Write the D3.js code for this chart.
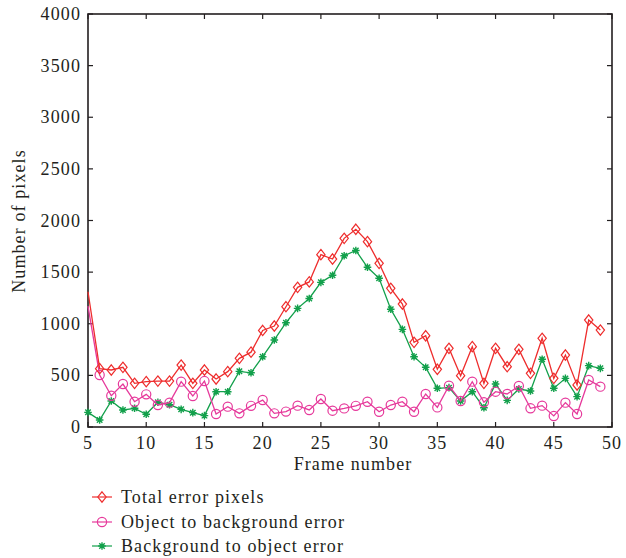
<!DOCTYPE html>
<html>
<head>
<meta charset="utf-8">
<script src="https://cdn.jsdelivr.net/npm/d3@7/dist/d3.min.js"></script>
<style>
  html, body { margin: 0; padding: 0; background: #fff; }
  svg text { font-family: "Liberation Serif", "Times New Roman", serif; fill: #231f20; }
</style>
</head>
<body>
<svg id="chart" width="626" height="558"></svg>
<script>
const frames = d3.range(5, 50);
const totalError = [1310, 565, 552, 578, 423, 439, 445, 445, 600, 423, 552, 465, 536, 665, 725, 935, 978, 1165, 1353, 1405, 1669, 1627, 1827, 1915, 1795, 1585, 1343, 1191, 820, 884, 559, 762, 497, 778, 423, 762, 584, 752, 520, 859, 471, 697, 407, 1036, 939];
const objToBg = [1170, 504, 303, 416, 245, 316, 213, 236, 439, 300, 445, 126, 197, 132, 205, 261, 132, 149, 207, 165, 271, 158, 180, 205, 245, 148, 213, 245, 148, 320, 190, 400, 252, 439, 239, 342, 320, 397, 181, 207, 107, 236, 126, 455, 391];
const bgToObj = [142, 68, 252, 165, 181, 123, 239, 216, 171, 139, 110, 342, 342, 539, 525, 681, 843, 1010, 1149, 1245, 1401, 1470, 1659, 1710, 1547, 1440, 1140, 946, 681, 578, 375, 381, 252, 342, 187, 416, 258, 368, 349, 656, 375, 471, 294, 594, 568];
const xTicks = [5, 10, 15, 20, 25, 30, 35, 40, 45, 50];
const yTicks = [0, 500, 1000, 1500, 2000, 2500, 3000, 3500, 4000];
const seriesNames = ["Total error pixels", "Object to background error", "Background to object error"];

const colors = ["#ee2d2d", "#e6399b", "#12a04b"];
const markers = ["diamond", "circle", "asterisk"];
const seriesData = [totalError, objToBg, bgToObj];

const svg = d3.select("#chart");
const L = 88, R = 612, T = 14, B = 427;
const x = d3.scaleLinear().domain([5, 50]).range([L, R]);
const y = d3.scaleLinear().domain([0, 4000]).range([B, T]);

const axisColor = "#231f20";
const fs = "18px";
const ls = "1.1px";

const tl = 5;
xTicks.forEach(v => {
  svg.append("line").attr("x1", x(v)).attr("x2", x(v)).attr("y1", B).attr("y2", B - tl).attr("stroke", axisColor).attr("stroke-width", 1.2);
  svg.append("line").attr("x1", x(v)).attr("x2", x(v)).attr("y1", T).attr("y2", T + tl).attr("stroke", axisColor).attr("stroke-width", 1.2);
  svg.append("text").attr("x", x(v)).attr("y", 449).attr("text-anchor", "middle")
    .style("font-size", fs).style("letter-spacing", ls).text(v);
});
yTicks.forEach(v => {
  svg.append("line").attr("x1", L).attr("x2", L + tl).attr("y1", y(v)).attr("y2", y(v)).attr("stroke", axisColor).attr("stroke-width", 1.2);
  svg.append("line").attr("x1", R).attr("x2", R - tl).attr("y1", y(v)).attr("y2", y(v)).attr("stroke", axisColor).attr("stroke-width", 1.2);
  svg.append("text").attr("x", 81).attr("y", y(v) + 6).attr("text-anchor", "end")
    .style("font-size", fs).style("letter-spacing", ls).text(v);
});

svg.append("rect").attr("x", L).attr("y", T).attr("width", R - L).attr("height", B - T)
  .attr("fill", "none").attr("stroke", axisColor).attr("stroke-width", 1.6);

svg.append("text").attr("x", 353).attr("y", 470).attr("text-anchor", "middle")
  .style("font-size", fs).style("letter-spacing", ls).text("Frame number");
svg.append("text").attr("transform", "translate(25,221) rotate(-90)").attr("text-anchor", "middle")
  .style("font-size", fs).style("letter-spacing", ls).text("Number of pixels");

function drawMarker(g, type, cx, cy, color) {
  if (type === "diamond") {
    const r = 5.2;
    g.append("path").attr("d", `M${cx},${cy - r}L${cx + r * 0.8},${cy}L${cx},${cy + r}L${cx - r * 0.8},${cy}Z`)
      .attr("fill", "none").attr("stroke", color).attr("stroke-width", 1.2);
  } else if (type === "circle") {
    g.append("circle").attr("cx", cx).attr("cy", cy).attr("r", 4.6)
      .attr("fill", "none").attr("stroke", color).attr("stroke-width", 1.2);
  } else {
    const r = 3.8, d = r * 0.72;
    g.append("path").attr("d", `M${cx - r},${cy}L${cx + r},${cy}M${cx},${cy - r}L${cx},${cy + r}M${cx - d},${cy - d}L${cx + d},${cy + d}M${cx - d},${cy + d}L${cx + d},${cy - d}`)
      .attr("stroke", color).attr("stroke-width", 1.4);
  }
}

const line = d3.line().x(d => x(d[0])).y(d => y(d[1]));
[2, 1, 0].forEach(i => {
  const g = svg.append("g");
  const pts = frames.map((f, k) => [f, seriesData[i][k]]);
  g.append("path").attr("d", line(pts)).attr("fill", "none").attr("stroke", colors[i]).attr("stroke-width", 1.3);
  pts.forEach((p, k) => { if (k > 0 || markers[i] === "asterisk") drawMarker(g, markers[i], x(p[0]), y(p[1]), colors[i]); });
});

const legY = [497, 522, 546];
seriesNames.forEach((name, i) => {
  const g = svg.append("g");
  g.append("line").attr("x1", 92).attr("x2", 112).attr("y1", legY[i]).attr("y2", legY[i]).attr("stroke", colors[i]).attr("stroke-width", 1.2);
  drawMarker(g, markers[i], 102, legY[i], colors[i]);
  g.append("text").attr("x", 121).attr("y", legY[i] + 6).style("font-size", fs).style("letter-spacing", ls).text(name);
});
</script>
</body>
</html>
